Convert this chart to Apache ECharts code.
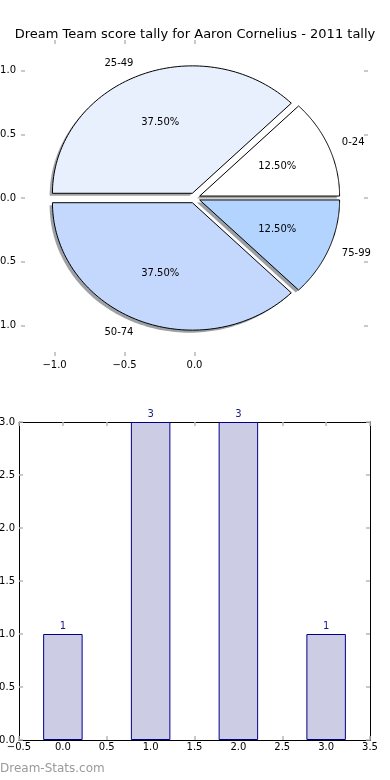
<!DOCTYPE html>
<html>
<head>
<meta charset="utf-8">
<script src="https://cdn.jsdelivr.net/npm/echarts@6/dist/echarts.min.js"></script>
<style>
html,body{margin:0;padding:0;background:#fff;}
#chart{width:390px;height:780px;}
</style>
</head>
<body>
<div id="chart"></div>
<script>
// ---- data ----
const titleText = 'Dream Team score tally for Aaron Cornelius - 2011 tally';
const sliceLabels = ['0-24', '25-49', '50-74', '75-99'];
const tally = [1, 3, 3, 1];
const barX = [0, 1, 2, 3];
const pieXTicks = [-1, -0.5, 0];
const pieYTicks = [-1, -0.5, 0, 0.5, 1];
const watermark = 'Dream-Stats.com';

// ---- style ----
const sliceColors = ['#ffffff', '#e8effd', '#c4d8fd', '#b3d4fe'];
const explode = 0.04;
const FONT = 'DejaVu Sans';
const tickColor = '#b8b8b8';

const total = tally.reduce((a, b) => a + b, 0);
function geom(i) {
  let before = 0;
  for (let k = 0; k < i; k++) before += tally[k];
  const a0 = before / total * 2 * Math.PI;
  const a1 = (before + tally[i]) / total * 2 * Math.PI;
  const mid = (a0 + a1) / 2;
  return { a0, a1, mid, ox: explode * Math.cos(mid), oy: explode * Math.sin(mid) };
}
function wedgePoints(api, i, sx, sy) {
  const g = geom(i);
  const pts = [api.coord([g.ox + sx, g.oy + sy])];
  const N = 90;
  for (let k = 0; k <= N; k++) {
    const t = g.a0 + (g.a1 - g.a0) * k / N;
    pts.push(api.coord([g.ox + sx + Math.cos(t), g.oy + sy + Math.sin(t)]));
  }
  return pts;
}
function shade(hex) {
  const r = parseInt(hex.slice(1, 3), 16), g = parseInt(hex.slice(3, 5), 16), b = parseInt(hex.slice(5, 7), 16);
  return 'rgba(' + Math.round(r * 0.3) + ',' + Math.round(g * 0.3) + ',' + Math.round(b * 0.3) + ',0.5)';
}
const fmt = v => Number(v).toFixed(1).replace('-', '\u2212');

const chart = echarts.init(document.getElementById('chart'), null, { renderer: 'canvas' });

const tickStyle = { show: true, inside: true, length: 4, lineStyle: { color: tickColor, width: 1.5 } };
const labelStyle = { fontFamily: FONT, fontSize: 10, color: '#000' };
const hiddenLine = { show: false, onZero: false };
const blackLine = { show: true, onZero: false, lineStyle: { color: '#000', width: 1 } };

const option = {
  animation: false,
  backgroundColor: '#fff',
  title: {
    text: titleText, left: 'center', top: 23,
    textStyle: { fontFamily: FONT, fontSize: 13, fontWeight: 'normal', color: '#000' }
  },
  graphic: [{
    type: 'text', left: 0, top: 763,
    style: { text: watermark, fontFamily: FONT, fontSize: 12, fill: '#9a9a9a' }
  }],
  grid: [
    { left: 21, right: 22, top: 40, height: 316, containLabel: false, outerBoundsMode: 'none' },
    { left: 19, right: 20, top: 422, bottom: 40, containLabel: false, outerBoundsMode: 'none' }
  ],
  xAxis: [
    { type: 'value', gridIndex: 0, position: 'bottom', min: -1.24, max: 1.24,
      axisLine: hiddenLine, splitLine: { show: false },
      axisTick: Object.assign({}, tickStyle, { customValues: pieXTicks }),
      axisLabel: Object.assign({}, labelStyle, { customValues: pieXTicks, margin: 4, formatter: fmt }) },
    { type: 'value', gridIndex: 0, position: 'top', min: -1.24, max: 1.24,
      axisLine: hiddenLine, splitLine: { show: false },
      axisTick: Object.assign({}, tickStyle, { customValues: pieXTicks }),
      axisLabel: { show: false } },
    { type: 'value', gridIndex: 1, position: 'bottom', min: -0.5, max: 3.5, interval: 0.5,
      axisLine: blackLine, splitLine: { show: false },
      axisTick: tickStyle,
      axisLabel: Object.assign({}, labelStyle, { margin: 2, formatter: fmt, showMinLabel: true, showMaxLabel: true }) },
    { type: 'value', gridIndex: 1, position: 'top', min: -0.5, max: 3.5, interval: 0.5,
      axisLine: blackLine, splitLine: { show: false },
      axisTick: tickStyle, axisLabel: { show: false } }
  ],
  yAxis: [
    { type: 'value', gridIndex: 0, position: 'left', min: -1.24, max: 1.24,
      axisLine: hiddenLine, splitLine: { show: false },
      axisTick: Object.assign({}, tickStyle, { customValues: pieYTicks }),
      axisLabel: Object.assign({}, labelStyle, { customValues: pieYTicks, margin: 5, formatter: fmt }) },
    { type: 'value', gridIndex: 0, position: 'right', min: -1.24, max: 1.24,
      axisLine: hiddenLine, splitLine: { show: false },
      axisTick: Object.assign({}, tickStyle, { customValues: pieYTicks }),
      axisLabel: { show: false } },
    { type: 'value', gridIndex: 1, position: 'left', min: 0, max: 3, interval: 0.5,
      axisLine: blackLine, splitLine: { show: false },
      axisTick: tickStyle,
      axisLabel: Object.assign({}, labelStyle, { margin: 4, formatter: fmt }) },
    { type: 'value', gridIndex: 1, position: 'right', min: 0, max: 3, interval: 0.5,
      axisLine: blackLine, splitLine: { show: false },
      axisTick: tickStyle, axisLabel: { show: false } }
  ],
  series: [
    { // shadows
      type: 'custom', xAxisIndex: 0, yAxisIndex: 0, z: 2, silent: true,
      data: tally.map((v, i) => [0, 0, v]),
      renderItem: function (params, api) {
        const i = params.dataIndex;
        return { type: 'polygon', shape: { points: wedgePoints(api, i, -0.02, -0.02) },
          style: { fill: shade(sliceColors[i]), stroke: null } };
      }
    },
    { // wedges + labels
      type: 'custom', xAxisIndex: 0, yAxisIndex: 0, z: 3, silent: true,
      data: tally.map((v, i) => [0, 0, v]),
      renderItem: function (params, api) {
        const i = params.dataIndex;
        const g = geom(i);
        const lx = g.ox + 1.1 * Math.cos(g.mid), ly = g.oy + 1.1 * Math.sin(g.mid);
        const px = g.ox + 0.6 * Math.cos(g.mid), py = g.oy + 0.6 * Math.sin(g.mid);
        const lp = api.coord([lx, ly]), pp = api.coord([px, py]);
        const pct = (api.value(2) / total * 100).toFixed(2) + '%';
        return { type: 'group', children: [
          { type: 'polygon', shape: { points: wedgePoints(api, i, 0, 0) },
            style: { fill: sliceColors[i], stroke: '#000', lineWidth: 1 } },
          { type: 'text', x: lp[0], y: lp[1],
            style: { text: sliceLabels[i], align: lx > 0 ? 'left' : 'right', verticalAlign: 'middle',
              fontFamily: FONT, fontSize: 10, fill: '#000' } },
          { type: 'text', x: pp[0], y: pp[1],
            style: { text: pct, align: 'center', verticalAlign: 'middle',
              fontFamily: FONT, fontSize: 10, fill: '#000' } }
        ] };
      }
    },
    { // bars
      type: 'bar', xAxisIndex: 2, yAxisIndex: 2,
      data: barX.map((x, i) => [x, tally[i]]),
      barWidth: 39.5,
      itemStyle: { color: '#ccccE5', borderColor: '#00008b', borderWidth: 1 },
      label: { show: true, position: 'top', distance: 3, color: '#1a1a8a', fontFamily: FONT, fontSize: 10 }
    }
  ]
};
chart.setOption(option);
</script>
</body>
</html>
